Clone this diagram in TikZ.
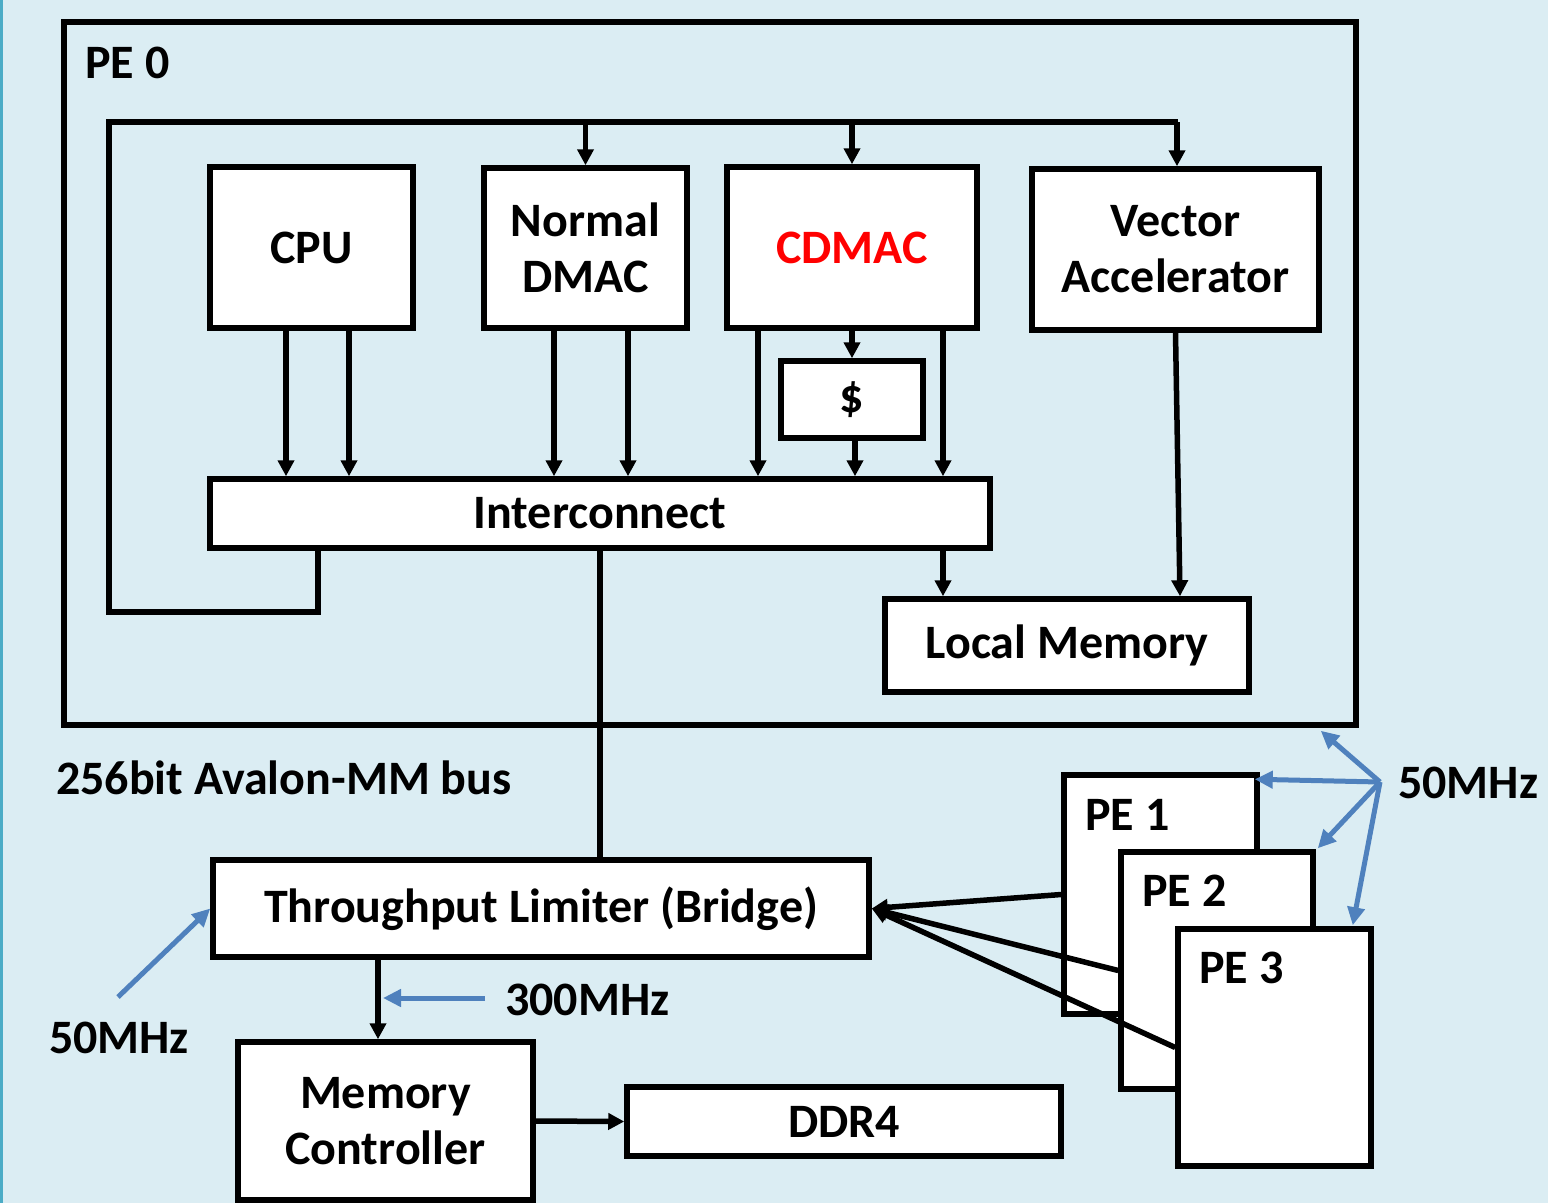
\documentclass[tikz,border=0pt]{standalone}
\usepackage{fontspec}
\setmainfont{Carlito}
\usetikzlibrary{arrows.meta}
\definecolor{bgc}{HTML}{DBEDF3}
\definecolor{stripe}{HTML}{4BACC6}
\definecolor{clk}{HTML}{4F81BD}
\definecolor{cdred}{HTML}{FF0000}
\begin{document}
\begin{tikzpicture}[x=1pt,y=-1pt,
  txt/.style={font=\fontsize{48}{56}\selectfont\bfseries, inner sep=0pt, align=center},
  box/.style={txt, draw, fill=white, line width=5.5pt, line join=miter},
  frame/.style={draw, line width=5.5pt},
  wire/.style={line width=5.5pt},
  arr/.style={line width=5.5pt, -{Triangle[length=16pt,width=16pt]}},
  clkarr/.style={draw=clk, line width=5pt, -{Triangle[length=18pt,width=17pt]}}
]
\fill[bgc] (0,0) rectangle (1548,1203);
\useasboundingbox (0,0) rectangle (1548,1203);
\fill[stripe] (0,0) rectangle (3,1203);

% PE 0 frame
\node[frame, minimum width=1292pt, minimum height=703pt, inner sep=0pt] (pe0) at (710,373.5) {};
\node[txt, anchor=west] (pe0lbl) at (85,63) {PE 0};

% blocks
\node[box, minimum width=203pt, minimum height=161pt] (cpu) at (311.5,247.5) {CPU};
\node[box, minimum width=203pt, minimum height=160pt] (ndmac) at (585.5,248) {Normal\\DMAC};
\node[box, minimum width=250pt, minimum height=161pt, text=cdred] (cdmac) at (852,247.5) {CDMAC};
\node[box, minimum width=287pt, minimum height=161pt] (vec) at (1175.5,249.5) {Vector\\Accelerator};
\node[box, minimum width=142pt, minimum height=77pt] (cache) at (852,399.5) {\$};
\node[box, minimum width=780pt, minimum height=69pt] (ic) at (600,513.5) {Interconnect};
\node[box, minimum width=364pt, minimum height=93pt] (lm) at (1067,645.5) {Local Memory};

% control bus loop
\coordinate (busA) at (318,612);
\coordinate (busB) at (109,612);
\coordinate (busC) at (109,122);
\coordinate (busD) at (1178,122);
\draw[wire] ([xshift=-282pt]ic.south |- ic.south) -- (busA) -- (busB) -- (busC) -- (busD);
\draw[arr] (ndmac.north |- busC) -- (ndmac.north);
\draw[arr] (cdmac.north |- busC) -- (cdmac.north);
\draw[arr] ([xshift=1.5pt]vec.north |- busD) -- ([xshift=1.5pt]vec.north);

% block -> interconnect
\draw[arr] ([xshift=-25.5pt]cpu.south) -- ([xshift=-25.5pt]cpu.south |- ic.north);
\draw[arr] ([xshift=37.5pt]cpu.south) -- ([xshift=37.5pt]cpu.south |- ic.north);
\draw[arr] ([xshift=-31.5pt]ndmac.south) -- ([xshift=-31.5pt]ndmac.south |- ic.north);
\draw[arr] ([xshift=42.5pt]ndmac.south) -- ([xshift=42.5pt]ndmac.south |- ic.north);
\draw[arr] ([xshift=-94pt]cdmac.south) -- ([xshift=-94pt]cdmac.south |- ic.north);
\draw[arr] ([xshift=91pt]cdmac.south) -- ([xshift=91pt]cdmac.south |- ic.north);
\draw[arr] (cdmac.south) -- (cache.north);
\draw[arr] ([xshift=3pt]cache.south) -- ([xshift=3pt]cache.south |- ic.north);

% to local memory
\draw[arr] ([xshift=343pt]ic.south) -- ([xshift=343pt]ic.south |- lm.north);
\draw[arr] (vec.south) -- ([xshift=113pt]lm.north);

% lower part
\node[txt, anchor=west] (avalon) at (56,778) {256bit Avalon-MM bus};
\node[box, minimum width=656pt, minimum height=97pt] (tl) at (541,908.5) {Throughput Limiter (Bridge)};
\node[box, minimum width=295pt, minimum height=158pt] (mc) at (385.5,1121) {Memory\\Controller};
\node[box, minimum width=434pt, minimum height=69pt] (ddr) at (844,1121.5) {DDR4};

\draw[wire] (ic.south) -- (ic.south |- tl.north);
\draw[arr] ([xshift=-163pt]tl.south) -- ([xshift=-163pt]tl.south |- mc.north);
\draw[arr] (mc.east) -- (ddr.west);

% other PEs
\node[box, minimum width=193pt, minimum height=239pt] (pe1) at (1160.5,894.5) {};
\node[box, minimum width=192pt, minimum height=237pt] (pe2) at (1217,970.5) {};
\node[box, minimum width=193pt, minimum height=237pt] (pe3) at (1274.5,1047.5) {};
\node[txt, anchor=west] (pe1lbl) at (1085,815) {PE 1};
\node[txt, anchor=west] (pe2lbl) at (1142,891) {PE 2};
\node[txt, anchor=west] (pe3lbl) at (1199,968) {PE 3};

\draw[arr] (pe1.west) -- (tl.east);
\draw[arr] (pe2.west) -- (tl.east);
\draw[arr] (pe3.west) -- (tl.east);

% clocks
\node[txt, anchor=west] (f300) at (505,1000) {300MHz};
\coordinate (c300a) at (485,998);
\coordinate (c300b) at (383,998);
\draw[clkarr] (c300a) -- (c300b);
\node[txt] (f50l) at (119,1038) {50MHz};
\coordinate (c50l) at (118,997);
\draw[clkarr] (c50l) -- (tl.west);

\coordinate (hub) at (1380,782);
\node[txt, anchor=west] (f50r) at (1398,783) {50MHz};
\draw[clkarr] (hub) -- ([xshift=-38pt,yshift=-3pt]pe0.south east);
\draw[clkarr] (hub) -- ([xshift=-5pt,yshift=-7pt]pe1.north east);
\draw[clkarr] (hub) -- ([xshift=2pt,yshift=1pt]pe2.north east);
\draw[clkarr] (hub) -- ([xshift=-21pt,yshift=1pt]pe3.north east);
\end{tikzpicture}
\end{document}
